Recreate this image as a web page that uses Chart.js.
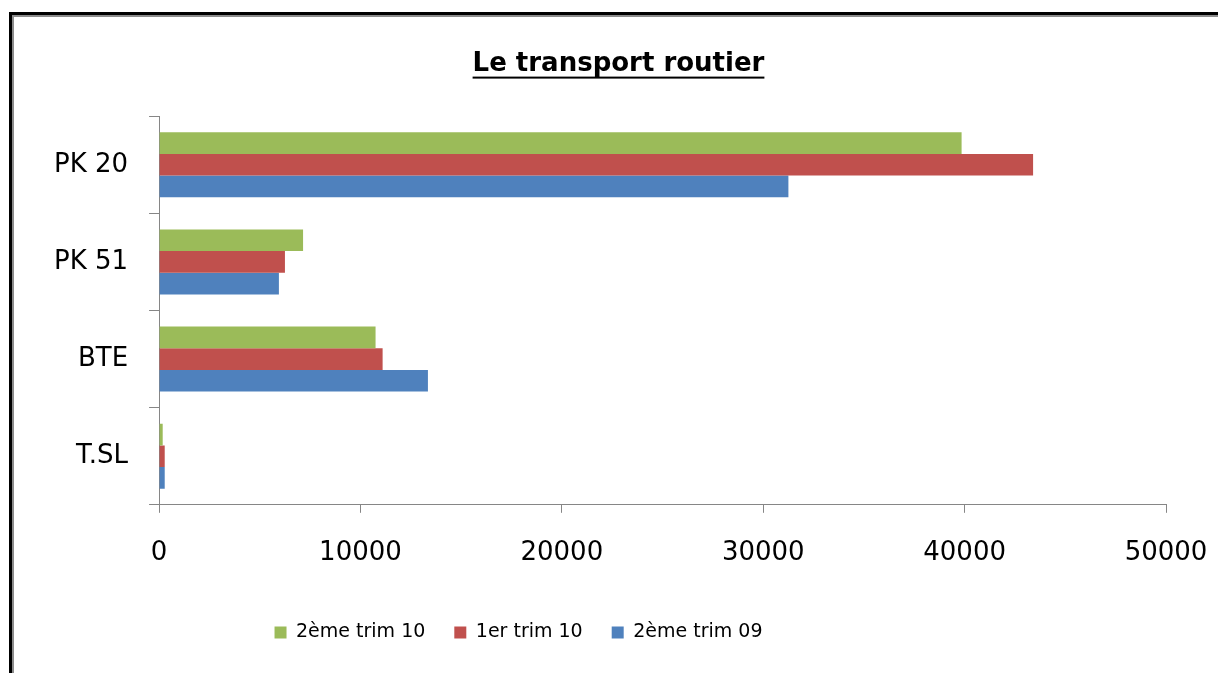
<!DOCTYPE html>
<html>
<head>
<meta charset="utf-8">
<script src="https://cdn.jsdelivr.net/npm/chart.js@4.4.1/dist/chart.umd.min.js"></script>
<style>
    html, body { margin: 0; padding: 0; background: #fff; overflow: hidden; }
    #frame {
        position: absolute; left: 9px; top: 12px; width: 1300px; height: 800px;
        border-left: 3px solid #000; border-top: 3px solid #000;
        box-shadow: inset 2px 2px 0 #8c8c8c;
    }
    #chart { position: absolute; left: 0; top: 0; }
</style>
</head>
<body>
<div id="frame"></div>
<canvas id="chart" width="1218" height="673"></canvas>
<script>
// Data
const categories = ['PK 20', 'PK 51', 'BTE', 'T.SL'];
const seriesNames = ['2ème trim 10', '1er trim 10', '2ème trim 09'];
const trim2_10 = [39850, 7150, 10750, 180];
const trim1_10 = [43400, 6250, 11100, 280];
const trim2_09 = [31250, 5950, 13350, 280];
const xTicks = [0, 10000, 20000, 30000, 40000, 50000];
const chartTitle = 'Le transport routier';

const colors = ['#9BBB59', '#C0504D', '#4F81BD'];
const axisGray = '#868686';

Chart.defaults.font.family = "'DejaVu Sans', sans-serif";
Chart.defaults.color = '#000';

// Excel-style touches: underlined title, legend shifted left
const excelLook = {
    id: 'excelLook',
    afterLayout(chart) {
        chart.titleBlock.left += 19;
        chart.titleBlock.right += 19;
        chart.legend.left -= 81;
        chart.legend.right -= 81;
    },
    afterDraw(chart) {
        const tb = chart.titleBlock;
        const opts = tb.options;
        const ctx = chart.ctx;
        ctx.save();
        ctx.font = 'bold 26px "DejaVu Sans"';
        const w = ctx.measureText(opts.text).width;
        const cx = (tb.left + tb.right) / 2;
        const y = tb.top + opts.padding.top + 26 * 1.2 / 2 + 12;
        ctx.fillStyle = '#000';
        ctx.fillRect(cx - w / 2, y, w, 2);
        ctx.restore();
    }
};

const ctx = document.getElementById('chart').getContext('2d');
new Chart(ctx, {
    type: 'bar',
    data: {
        labels: categories,
        datasets: [
            { label: seriesNames[0], data: trim2_10, backgroundColor: colors[0] },
            { label: seriesNames[1], data: trim1_10, backgroundColor: colors[1] },
            { label: seriesNames[2], data: trim2_09, backgroundColor: colors[2] }
        ]
    },
    options: {
        indexAxis: 'y',
        responsive: false,
        animation: false,
        categoryPercentage: 0.67,
        barPercentage: 1,
        layout: { padding: { left: 33, right: 52, top: 0, bottom: 21 } },
        plugins: {
            title: {
                display: true,
                text: chartTitle,
                font: { size: 26, weight: 'bold' },
                padding: { top: 49, bottom: 36 }
            },
            legend: {
                position: 'bottom',
                labels: {
                    boxWidth: 12,
                    boxHeight: 12,
                    padding: 29,
                    font: { size: 19 }
                }
            },
            tooltip: { enabled: false }
        },
        scales: {
            x: {
                min: 0,
                max: 50000,
                afterBuildTicks: axis => { axis.ticks = xTicks.map(v => ({ value: v })); },
                afterFit: axis => { axis.paddingRight = 0; },
                grid: { drawOnChartArea: false, tickLength: 8, color: axisGray },
                border: { color: axisGray, width: 1 },
                ticks: {
                    padding: 25,
                    font: { size: 26 },
                    callback: v => String(v)
                }
            },
            y: {
                grid: { offset: true, drawOnChartArea: false, tickLength: 10, color: axisGray },
                border: { color: axisGray, width: 1 },
                ticks: { padding: 21, font: { size: 26 } }
            }
        }
    },
    plugins: [excelLook]
});
</script>
</body>
</html>
